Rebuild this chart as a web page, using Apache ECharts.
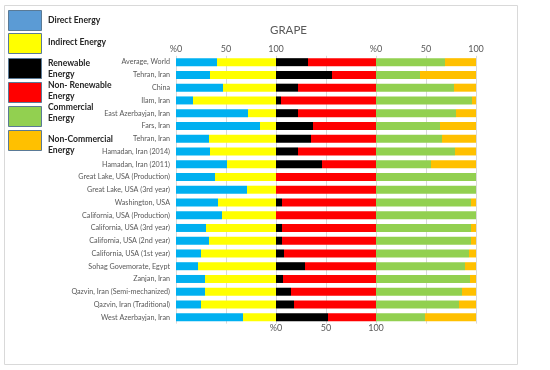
<!DOCTYPE html>
<html><head><meta charset="utf-8">
<script src="https://cdn.jsdelivr.net/npm/echarts@6/dist/echarts.min.js"></script>
<style>html,body{margin:0;padding:0;background:#fff}#c{width:550px;height:370px}</style>
</head><body><div id="c"></div>
<script>
var categories = ["Average, World","Tehran, Iran","China","Ilam, Iran","East Azerbayjan, Iran","Fars, Iran","Tehran, Iran","Hamadan, Iran (2014)","Hamadan, Iran (2011)","Great Lake, USA (Production)","Great Lake, USA (3rd year)","Washington, USA","California, USA (Production)","California, USA (3rd year)","California, USA (2nd year)","California, USA (1st year)","Sohag Govemorate, Egypt","Zanjan, Iran","Qazvin, Iran (Semi-mechanized)","Qazvin, Iran (Traditional)","West Azerbayjan, Iran"];
var directEnergy    = [41,34,47,17,72,84,33,34,51,39,71,42,46,30,33,25,22,29,29,25,67];
var indirectEnergy  = [59,66,53,83,28,16,67,66,49,61,29,58,54,70,67,75,78,71,71,75,33];
var renewable       = [32,56,22,5,22,37,35,22,46,0,0,6,0,6,6,8,29,7,15,18,52];
var nonRenewable    = [68,44,78,95,78,63,65,78,54,100,100,94,100,94,94,92,71,93,85,82,48];
var commercial      = [69,44,78,96,80,64,66,79,55,100,100,95,100,95,95,93,89,94,86,83,49];
var nonCommercial   = [31,56,22,4,20,36,34,21,45,0,0,5,0,5,5,7,11,6,14,17,51];
var topTickLabels   = {0:"%0",50:"50",100:"100",200:"%0",250:"50",300:"100"};
var bottomTickLabels= {100:"%0",150:"50",200:"100"};
var seriesNames = ["Direct Energy","Indirect Energy","Renewable Energy","Non- Renewable Energy","Commercial Energy","Non-Commercial Energy"];
var legendLines = [["Direct Energy"],["Indirect Energy"],["Renewable","Energy"],["Non- Renewable","Energy"],["Commercial","Energy"],["Non-Commercial","Energy"]];

var F = "Lato, 'Liberation Sans', sans-serif";
var chart = echarts.init(document.getElementById('c'));
var barColors = ["#00B0F0","#FFFF00","#000000","#FF0000","#92D050","#FFC000"];
var legendColors = ["#5B9BD5","#FFFF00","#000000","#FF0000","#92D050","#FFC000"];
var values = [directEnergy,indirectEnergy,renewable,nonRenewable,commercial,nonCommercial];

var series = seriesNames.map(function(n,i){
  return {name:n, type:'bar', stack:'all', barWidth:8, data:values[i],
    itemStyle:{color:barColors[i]}, emphasis:{disabled:true}};
});

// legend drawn as graphic boxes + text
var boxTops = [10,33,58,82,106,130];
var textYs = [[20],[42],[63,74],[85,96],[107,118],[139,150]];
var graphics = [
  {type:'rect', shape:{x:4.5,y:5.5,width:513,height:359}, style:{fill:null, stroke:'#d9d9d9', lineWidth:1}, z:-10}
];
legendLines.forEach(function(lines,i){
  graphics.push({type:'rect', shape:{x:8.5,y:boxTops[i]+0.5,width:33,height:20},
    style:{fill:legendColors[i], stroke:'#5a7a96', lineWidth:1}});
  lines.forEach(function(t,j){
    graphics.push({type:'text', x:48, y:textYs[i][j],
      style:{text:t, font:"bold 8.6px Lato", fill:'#262626', textVerticalAlign:'middle', verticalAlign:'middle'}});
  });
});

chart.setOption({
  animation:false,
  title:{text:'GRAPE', left:265, top:19, textStyle:{fontFamily:F, fontSize:11.5, fontWeight:'normal', color:'#595959'}},
  grid:{left:176, right:74, top:55.8, bottom:46.4, containLabel:false},
  xAxis:[
    {type:'value', position:'top', min:0, max:300, interval:50,
     axisLine:{show:false}, axisTick:{show:false},
     splitLine:{show:true, lineStyle:{color:'#d9d9d9', width:1}},
     axisLabel:{margin:2, fontFamily:F, fontSize:9, color:'#595959', formatter:function(v){return topTickLabels[v]||'';}}},
    {type:'value', position:'bottom', min:0, max:300, interval:50,
     axisLine:{show:false}, axisTick:{show:false}, splitLine:{show:false},
     axisLabel:{margin:0, fontFamily:F, fontSize:9, color:'#595959', formatter:function(v){return bottomTickLabels[v]||'';}}}
  ],
  yAxis:{type:'category', inverse:true, data:categories,
    axisLine:{show:false}, axisTick:{show:false},
    axisLabel:{margin:6, fontFamily:F, fontSize:7.2, color:'#595959'}},
  series: series,
  graphic: graphics
});
</script></body></html>
